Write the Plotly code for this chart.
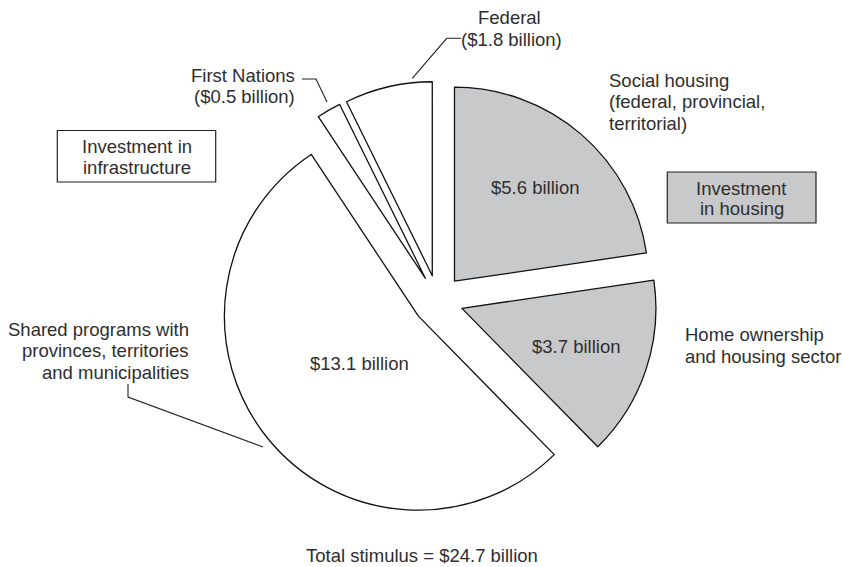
import numpy as np
import plotly.graph_objects as go

W, H = 843, 567

# Stimulus components, in billions of dollars, clockwise from 12 o'clock
labels = [
    "Social housing",
    "Home ownership and housing sector",
    "Shared programs",
    "First Nations",
    "Federal",
]
values = [5.6, 3.7, 13.1, 0.5, 1.8]
groups = ["housing", "housing", "infrastructure", "infrastructure", "infrastructure"]

GROUP_FILL = {"housing": "#c8c9cb", "infrastructure": "#ffffff"}
TEXT = "#2e2e2e"
FONT = dict(family="Liberation Sans, Arial, Helvetica, sans-serif", size=18.5, color=TEXT)

total = sum(values)

# pie geometry (pixels): centre of the un-pulled pie, radius, pull fraction
cx, cy, r, pull = 438.0, 300.3, 194.0, 0.13
half = r * (1 + pull)


def px(x, y):
    return x / W, 1 - y / H


fig = go.Figure()
fig.add_trace(
    go.Pie(
        labels=labels,
        values=values,
        sort=False,
        direction="clockwise",
        rotation=0,
        pull=[pull] * len(values),
        marker=dict(colors=[GROUP_FILL[g] for g in groups],
                    line=dict(color="#111111", width=1.3)),
        textinfo="none",
        hoverinfo="skip",
        showlegend=False,
        domain=dict(x=[(cx - half) / W, (cx + half) / W],
                    y=[1 - (cy + half) / H, 1 - (cy - half) / H]),
    )
)


def add_text(x, y, s, anchor="center"):
    ax, ay = px(x, y)
    fig.add_annotation(x=ax, y=ay, xref="paper", yref="paper", text=s,
                       showarrow=False, xanchor=anchor, yanchor="middle",
                       font=FONT, borderpad=0)


# value labels inside the three large slices, placed along each slice's mid-angle
cum = np.concatenate([[0], np.cumsum(values)])
mid = (cum[:-1] + cum[1:]) / 2 / total * 2 * np.pi
inside_radius = [0.767, 0.75, 0.52, None, None]
for v, a, k in zip(values, mid, inside_radius):
    if k is None:
        continue
    add_text(cx + k * r * np.sin(a), cy - k * r * np.cos(a), f"${v:g} billion")

# outside labels
add_text(509, 17.5, "Federal")
add_text(511.5, 39, f"(${values[4]:g} billion)")
add_text(296, 75, "First Nations", "right")
add_text(296, 97, f"(${values[3]:g} billion)", "right")
for i, line in enumerate(["Social housing", "(federal, provincial,", "territorial)"]):
    add_text(608, 80 + 21.8 * i, line, "left")
for i, line in enumerate(["Home ownership", "and housing sector"]):
    add_text(683.5, 334.4 + 21.8 * i, line, "left")
for i, line in enumerate(["Shared programs with", "provinces, territories", "and municipalities"]):
    add_text(189.5, 329 + 21.5 * i, line, "right")
add_text(422, 555, f"Total stimulus = ${total:.1f} billion")

# group boxes
boxes = [
    ((57.3, 130.5, 215.7, 182.0), GROUP_FILL["infrastructure"], ["Investment in", "infrastructure"], (146.5, 167.0)),
    ((667.3, 172.0, 816.0, 223.0), GROUP_FILL["housing"], ["Investment", "in housing"], (188.0, 209.0)),
]
shapes = []
for (x0, y0, x1, y1), fill, lines, ys in boxes:
    a0, b0 = px(x0, y1)
    a1, b1 = px(x1, y0)
    shapes.append(dict(type="rect", xref="paper", yref="paper", x0=a0, y0=b0, x1=a1, y1=b1,
                       fillcolor=fill, line=dict(color="#222222", width=1.2), layer="above"))
    for line, yy in zip(lines, ys):
        add_text((x0 + x1) / 2, yy, line)

# leader lines
leaders = [
    [(461, 38.3), (446.7, 38.3), (412.3, 78.3)],
    [(302, 79), (316, 79), (327, 102)],
    [(128, 384), (128, 397), (263, 447)],
]
for pts in leaders:
    p = [px(x, y) for x, y in pts]
    path = "M " + " L ".join(f"{a:.5f},{b:.5f}" for a, b in p)
    shapes.append(dict(type="path", xref="paper", yref="paper", path=path,
                       line=dict(color="#222222", width=1.1)))

fig.update_layout(
    width=W, height=H,
    margin=dict(l=0, r=0, t=0, b=0),
    paper_bgcolor="white", plot_bgcolor="white",
    shapes=shapes,
    showlegend=False,
)

fig.write_html("out.html")
